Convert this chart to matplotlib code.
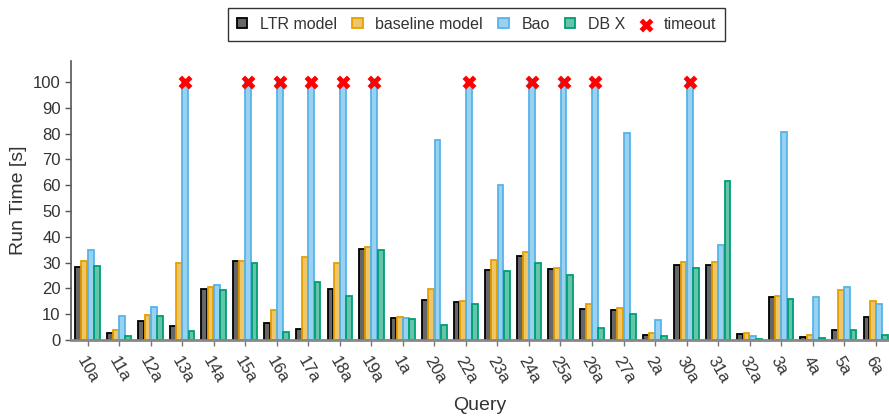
import matplotlib
matplotlib.use("Agg")
import matplotlib.pyplot as plt
import numpy as np
from matplotlib.colors import to_rgba

plt.rcParams["font.family"] = ["Liberation Sans", "DejaVu Sans"]

queries = ["10a", "11a", "12a", "13a", "14a", "15a", "16a", "17a", "18a", "19a",
           "1a", "20a", "22a", "23a", "24a", "25a", "26a", "27a", "2a", "30a",
           "31a", "32a", "3a", "4a", "5a", "6a"]

ltr = [28.3, 2.5, 7.2, 5.4, 19.7, 30.7, 6.5, 4.4, 19.7, 35.4,
       8.5, 15.6, 14.5, 27.1, 32.5, 27.6, 12.1, 11.6, 1.7, 29.0,
       29.0, 2.1, 16.8, 1.3, 3.9, 8.8]
baseline = [30.6, 3.9, 9.7, 29.9, 20.6, 30.6, 11.5, 32.0, 29.9, 36.0,
            9.0, 19.7, 15.0, 31.1, 34.2, 27.9, 13.9, 12.5, 2.6, 30.3,
            30.1, 2.5, 17.2, 2.0, 19.5, 15.1]
bao = [34.8, 9.2, 12.9, 100, 21.2, 100, 100, 100, 100, 100,
       8.6, 77.5, 100, 60.1, 100, 100, 100, 80.3, 7.7, 100,
       36.6, 1.4, 80.6, 16.8, 20.4, 13.9]
dbx = [28.5, 1.4, 9.4, 3.4, 19.4, 29.9, 3.0, 22.6, 17.2, 34.7,
       8.1, 5.6, 14.1, 26.6, 29.9, 25.2, 4.6, 10.2, 1.6, 27.9,
       61.8, 0.5, 16.0, 0.6, 3.7, 1.8]
timeout = [False, False, False, True, False, True, True, True, True, True,
           False, False, True, False, True, True, True, False, False, True,
           False, False, False, False, False, False]

series = [("LTR model", ltr, "#000000"),
          ("baseline model", baseline, "#e69f00"),
          ("Bao", bao, "#56b4e9"),
          ("DB X", dbx, "#009e73")]

fig = plt.figure(figsize=(8.89, 4.17), dpi=100)
ax = fig.add_axes([0.080, 0.185, 0.920, 0.669])

x = np.arange(len(queries))
w = 0.197
handles = []
for i, (name, vals, col) in enumerate(series):
    b = ax.bar(x + (i - 1.5) * w, vals, width=w * 0.94,
               facecolor=to_rgba(col, 0.6), edgecolor=col, linewidth=1.3,
               label=name)
    handles.append(b)

mask = np.array(timeout)
tx = x[mask] + 0.5 * w
ty = np.array(bao)[mask]
sc = ax.scatter(tx, ty, marker="X", s=100, color="#ff0000", zorder=5,
                linewidths=0, label="timeout")

ax.set_xlim(-0.52, len(queries) - 1 + 0.42)
ax.set_ylim(0, 108.2)
ax.set_yticks(np.arange(0, 101, 10))
ax.set_xticks(x)
ax.set_xticklabels(queries, rotation=-60, ha="left", rotation_mode="anchor",
                   fontsize=12, color="#333333")
ax.tick_params(axis="y", labelsize=12, labelcolor="#333333", color="#555555",
               length=4, width=1)
ax.tick_params(axis="x", color="#777777", length=4, width=1, pad=6)

for s in ["top", "right"]:
    ax.spines[s].set_visible(False)
ax.spines["left"].set_color("#555555")
ax.spines["left"].set_linewidth(1.2)
ax.spines["bottom"].set_color("#888888")
ax.spines["bottom"].set_linewidth(2)

ax.set_ylabel("Run Time [s]", fontsize=14, color="#333333")
ax.set_xlabel("Query", fontsize=14, color="#333333", labelpad=8)

leg = fig.legend(handles=handles + [sc], loc="upper center",
                 bbox_to_anchor=(0.536, 1.0), ncol=5, fontsize=11.5,
                 frameon=True, fancybox=False, edgecolor="#000000",
                 handlelength=0.65, handleheight=0.65, handletextpad=0.8,
                 columnspacing=0.95, borderpad=0.55)
leg.get_frame().set_linewidth(1.0)
for t in leg.get_texts():
    t.set_color("#333333")

fig.savefig("out.png", dpi=100)
